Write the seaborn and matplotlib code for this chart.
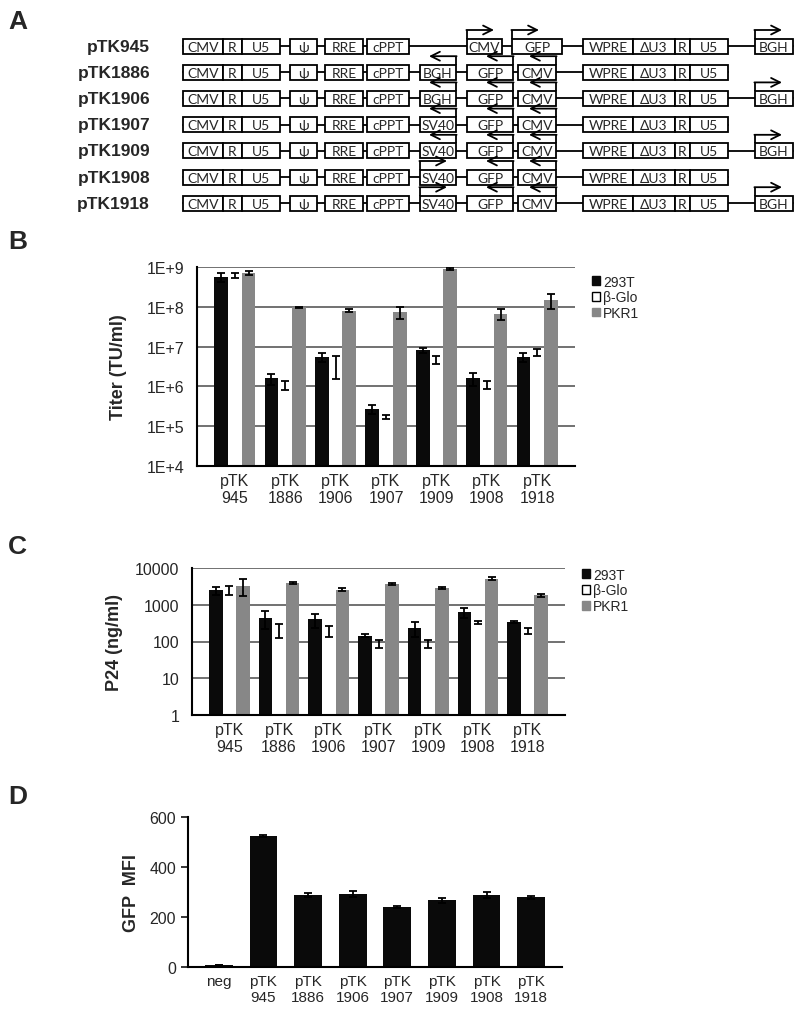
import numpy as np
import pandas as pd
import matplotlib
matplotlib.use("Agg")
import matplotlib.pyplot as plt
import seaborn as sns
from matplotlib.patches import Rectangle, Patch
from matplotlib.ticker import FixedLocator, NullLocator

sns.set_style("white")
plt.rcParams["font.family"] = ["Liberation Sans", "DejaVu Sans"]

# ======================
# Data
# ======================
constructs = ["pTK945", "pTK1886", "pTK1906", "pTK1907", "pTK1909", "pTK1908", "pTK1918"]
promoter = [None, "BGH", "BGH", "SV40", "SV40", "SV40", "SV40"]
promoter_dir = [None, "left", "left", "left", "left", "right", "right"]
has_3bgh = [True, False, True, False, True, False, True]

groups = ["pTK\n945", "pTK\n1886", "pTK\n1906", "pTK\n1907", "pTK\n1909", "pTK\n1908", "pTK\n1918"]
cells = ["293T", "β-Glo", "PKR1"]

titer_293t = [5.6e8, 1.6e6, 5.6e6, 2.7e5, 8.1e6, 1.6e6, 5.6e6]
titer_293t_err = [1.5e8, 0.5e6, 1.4e6, 0.7e5, 1.0e6, 0.6e6, 1.5e6]
titer_bglo = [6.2e8, 1.1e6, 3.7e6, 1.7e5, 4.7e6, 1.1e6, 7.2e6]
titer_bglo_err = [0.8e8, 0.3e6, 2.2e6, 0.2e5, 1.0e6, 0.25e6, 1.3e6]
titer_pkr1 = [7.2e8, 9.8e7, 8.0e7, 7.5e7, 8.8e8, 6.6e7, 1.5e8]
titer_pkr1_err = [0.8e8, 0.3e7, 0.8e7, 2.5e7, 0.5e8, 2.0e7, 6.0e7]

p24_293t = [2500, 440, 400, 145, 235, 630, 335]
p24_293t_err = [600, 220, 170, 15, 100, 200, 25]
p24_bglo = [2550, 215, 200, 88, 89, 330, 195]
p24_bglo_err = [650, 90, 65, 22, 22, 25, 35]
p24_pkr1 = [3300, 3950, 2550, 3650, 2800, 5150, 1800]
p24_pkr1_err = [1600, 250, 250, 150, 200, 400, 150]

mfi_labels = ["neg"] + groups
mfi = [8, 525, 287, 293, 240, 267, 289, 279]
mfi_err = [1, 5, 8, 12, 4, 10, 11, 5]

colors = ["#0a0a0a", "#ffffff", "#878787"]

W, H = 800, 1012
fig = plt.figure(figsize=(8, 10.12), dpi=100)


def px_axes(x0, y0, x1, y1):
    return fig.add_axes([x0 / W, 1 - y1 / H, (x1 - x0) / W, (y1 - y0) / H])


# ======================
# Panel A: construct maps
# ======================
axA = fig.add_axes([0, 0, 1, 1])
axA.set_xlim(0, W)
axA.set_ylim(H, 0)
axA.axis("off")

box_h = 15
arrow_h = 8.5
arrow_len = 27
box_font = dict(family=["Lato", "DejaVu Sans"], fontsize=10)

left_part = [("CMV", 183, 223), ("R", 223, 242), ("U5", 242, 280),
             ("ψ", 290, 317), ("RRE", 325, 363), ("cPPT", 367, 409)]
ltr_part = [("WPRE", 583, 633), ("ΔU3", 633, 675), ("R", 675, 690), ("U5", 690, 728)]
bgh_3 = ("BGH", 755, 793)


def arrow(ax, x, y_top, direction):
    yy = y_top - arrow_h
    ax.plot([x, x], [y_top, yy], color="black", lw=1.3, solid_capstyle="butt")
    dx = arrow_len if direction == "right" else -arrow_len
    ax.annotate("", xy=(x + dx, yy), xytext=(x - (0.6 if direction == "right" else -0.6), yy),
                arrowprops=dict(arrowstyle="->", lw=1.3, color="black",
                                mutation_scale=16, shrinkA=0, shrinkB=0))


for i, name in enumerate(constructs):
    y = 47 + 26.2 * i
    axA.text(150, y, name, ha="right", va="center", fontsize=12.5, weight="bold")
    arrows = []
    if promoter[i] is None:
        middle = [("CMV", 467, 502), ("GFP", 512, 562)]
        arrows += [(467, "right"), (512, "right")]
    else:
        middle = [(promoter[i], 420, 456), ("GFP", 467, 513), ("CMV", 518, 556)]
        arrows.append((456 if promoter_dir[i] == "left" else 420, promoter_dir[i]))
        arrows += [(513, "left"), (556, "left")]
    parts = left_part + middle + ltr_part
    if has_3bgh[i]:
        parts = parts + [bgh_3]
        arrows.append((bgh_3[1], "right"))
    axA.plot([parts[0][1], parts[-1][2]], [y, y], color="black", lw=1.3, zorder=1)
    for lab, x0, x1 in parts:
        axA.add_patch(Rectangle((x0, y - box_h / 2), x1 - x0, box_h, facecolor="white",
                                edgecolor="black", lw=1.3, zorder=2))
        axA.text((x0 + x1) / 2, y + 0.5, lab, ha="center", va="center", zorder=3, **box_font)
    for x, d in arrows:
        arrow(axA, x, y - box_h / 2, d)

for lab, y in [("A", 22), ("B", 242), ("C", 547), ("D", 797)]:
    axA.text(8, y, lab, fontsize=19, weight="bold", va="center", ha="left")


# ======================
# Panels B and C: grouped log bars
# ======================
def grouped_log(ax, vals, errs, ylim, ticks, ticklabels, ylabel, labelpad, leg_y):
    df = pd.DataFrame({
        "group": np.tile(groups, 3),
        "cell": np.repeat(cells, len(groups)),
        "value": np.concatenate(vals),
    })
    sns.barplot(data=df, x="group", y="value", hue="cell", palette=colors,
                errorbar=None, width=0.82, saturation=1,
                legend=False, ax=ax, linewidth=0)
    ax.set_yscale("log")
    for cont, err in zip(ax.containers, errs):
        xs = [b.get_x() + b.get_width() / 2 for b in cont]
        hs = [b.get_height() for b in cont]
        ax.errorbar(xs, hs, yerr=err, fmt="none", ecolor="black", elinewidth=1.3,
                    capsize=3, capthick=1.3, zorder=5)
    ax.set_ylim(*ylim)
    ax.yaxis.set_major_locator(FixedLocator(ticks))
    ax.yaxis.set_minor_locator(NullLocator())
    ax.set_yticklabels(ticklabels)
    ax.yaxis.grid(True, color="#666666", lw=1.3)
    ax.set_axisbelow(True)
    for s in ["top", "right"]:
        ax.spines[s].set_visible(False)
    for s in ["left", "bottom"]:
        ax.spines[s].set_color("black")
        ax.spines[s].set_linewidth(1.5)
    ax.tick_params(axis="y", length=0, labelsize=11.5, pad=9)
    ax.tick_params(axis="x", length=0, labelsize=11.5, pad=5)
    ax.set_xlabel("")
    ax.set_ylabel(ylabel, fontsize=13, weight="bold", labelpad=labelpad)
    handles = [Patch(facecolor=colors[0], edgecolor=colors[0]),
               Patch(facecolor=colors[1], edgecolor="black", lw=1),
               Patch(facecolor=colors[2], edgecolor=colors[2])]
    ax.legend(handles, cells, loc="upper left", bbox_to_anchor=(1.03, leg_y), frameon=False,
              fontsize=10, handlelength=0.6, handleheight=0.6, handletextpad=0.2,
              labelspacing=0.12, borderaxespad=0)


axB = px_axes(197, 268, 575, 467)
grouped_log(axB, [titer_293t, titer_bglo, titer_pkr1],
            [titer_293t_err, titer_bglo_err, titer_pkr1_err],
            (1e4, 1e9), [1e4, 1e5, 1e6, 1e7, 1e8, 1e9],
            ["1E+4", "1E+5", "1E+6", "1E+7", "1E+8", "1E+9"], "Titer (TU/ml)", 14, 0.99)

axC = px_axes(192, 569, 565, 716)
grouped_log(axC, [p24_293t, p24_bglo, p24_pkr1],
            [p24_293t_err, p24_bglo_err, p24_pkr1_err],
            (1, 1e4), [1, 10, 100, 1000, 10000],
            ["1", "10", "100", "1000", "10000"], "P24 (ng/ml)", 9, 1.04)

# ======================
# Panel D: GFP MFI
# ======================
axD = px_axes(188, 818, 562, 968)
dfD = pd.DataFrame({"label": mfi_labels, "mfi": mfi})
sns.barplot(data=dfD, x="label", y="mfi", color=colors[0], saturation=1,
            errorbar=None, width=0.62, ax=axD, linewidth=0)
axD.errorbar(range(len(mfi)), mfi, yerr=mfi_err, fmt="none", ecolor="black",
             elinewidth=1.3, capsize=3, capthick=1.3)
axD.set_ylim(0, 600)
axD.set_yticks([0, 200, 400, 600])
for s in ["top", "right"]:
    axD.spines[s].set_visible(False)
for s in ["left", "bottom"]:
    axD.spines[s].set_color("black")
    axD.spines[s].set_linewidth(1.5)
axD.tick_params(axis="y", length=5, width=1.3, labelsize=11.5, left=True)
axD.tick_params(axis="x", length=0, labelsize=11, pad=5)
axD.set_xlabel("")
axD.set_ylabel("GFP  MFI", fontsize=13, weight="bold", labelpad=7)

fig.savefig("out.png", dpi=100)
